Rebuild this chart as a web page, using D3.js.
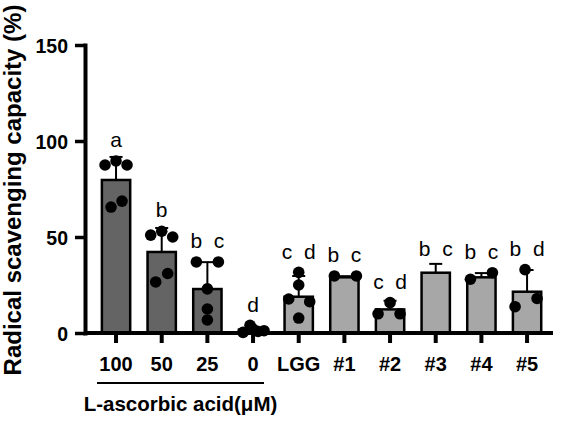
<!DOCTYPE html>
<html>
<head>
    <meta charset="utf-8">
    <style>
        body { margin: 0; background: #fff; }
        svg { font-family: "Liberation Sans", Arial, sans-serif; }
        .tick text { font-weight: bold; fill: #000; }
        .sig { font-size: 21px; white-space: pre; }
    </style>
</head>
<body>
<svg width="566" height="421"></svg>

<script src="https://d3js.org/d3.v7.min.js"></script>
<script>
    // groups on the x axis
    let groups = ["100", "50", "25", "0", "LGG", "#1", "#2", "#3", "#4", "#5"]
    // bar heights (mean) and upper SD
    let means = [79.7, 42.2, 22.9, 1.7, 18.9, 29.0, 12.3, 31.4, 29.0, 21.5]
    let sds = [12.0, 12.5, 14.0, 1.5, 10.8, 0.6, 4.5, 4.6, 2.2, 11.3]
    // individual replicates and their horizontal jitter (px)
    let points = [
        [87.5, 89.6, 87.5, 65.6, 68.7],
        [51, 53, 50, 26.6, 31],
        [37, 37, 23, 12.5, 6.8],
        [0.3, 4, 2, 0.8, 1.2],
        [31.6, 25, 17.7, 16.3, 7.8],
        [29.7, 29.7],
        [10, 10, 15.8],
        [],
        [28, 31.4],
        [33, 18, 13.7]
    ]
    let jitter = [
        [-11, 0, 11, -5, 6],
        [-11, 0, 11, -6, 6],
        [-11, 11, 0, 0, 0],
        [-10, -3, 0, 5, 11],
        [0, 0, -10, 11, 0],
        [-10, 12],
        [-12, 10, 0],
        [],
        [-11, 11],
        [-2, 10, -12]
    ]
    let letters = ["a", "b", "b  c", "d", "c  d", "b  c", "c  d", "b  c", "b  c", "b  d"]
    let dark = 4   // first four bars are the ascorbic acid series
    let yTicks = [0, 50, 100, 150]

    let svg = d3.select("svg")
    let axisX = 85, axisY = 333

    let x = d3.scaleBand()
        .domain(groups)
        .range([93.2, 549.9])
        .paddingInner(0.38)
        .paddingOuter(0.19)

    let y = d3.scaleLinear()
        .domain([0, 150])
        .range([axisY, 45])

    let r = 5.8

    // bars
    let g = svg.append("g")
    g.selectAll("rect")
        .data(groups)
        .join("rect")
        .attr("x", d => x(d))
        .attr("width", x.bandwidth())
        .attr("y", (d, i) => y(means[i]))
        .attr("height", (d, i) => axisY - y(means[i]))
        .attr("fill", (d, i) => i < dark ? "#646464" : "#a7a7a7")
        .attr("stroke", "#000")
        .attr("stroke-width", 2.5)

    // error bars (upper only)
    let eb = svg.append("g").attr("stroke", "#000").attr("stroke-width", 2)
    groups.forEach((d, i) => {
        let cx = x(d) + x.bandwidth() / 2
        eb.append("line")
            .attr("x1", cx).attr("x2", cx)
            .attr("y1", y(means[i])).attr("y2", y(means[i] + sds[i]))
        eb.append("line")
            .attr("x1", cx - 6.5).attr("x2", cx + 6.5)
            .attr("y1", y(means[i] + sds[i])).attr("y2", y(means[i] + sds[i]))
    })

    // dots
    let dots = svg.append("g")
    groups.forEach((d, i) => {
        let cx = x(d) + x.bandwidth() / 2
        dots.selectAll(".p" + i)
            .data(points[i])
            .join("circle")
            .attr("class", "p" + i)
            .attr("cx", (v, j) => cx + jitter[i][j])
            .attr("cy", v => y(v))
            .attr("r", r)
            .attr("fill", "#000")
    })

    // significance letters
    svg.append("g")
        .selectAll("text")
        .data(groups)
        .join("text")
        .attr("class", "sig")
        .attr("x", d => x(d) + x.bandwidth() / 2)
        .attr("y", (d, i) => {
            let px = Math.min(y(means[i] + sds[i]), y(d3.max(points[i]) || 0) - r)
            return px - 8
        })
        .attr("text-anchor", "middle")
        .text((d, i) => letters[i])

    // y axis
    let yAxis = svg.append("g")
        .attr("transform", `translate(${axisX},0)`)
        .call(d3.axisLeft(y).tickValues(yTicks).tickSize(10).tickSizeOuter(0).tickPadding(7))
    yAxis.select(".domain").attr("stroke-width", 4).attr("stroke-linecap", "square")
    yAxis.selectAll(".tick line").attr("stroke-width", 3.5)
    yAxis.selectAll(".tick text").style("font-size", "19.5px").attr("dy", "0.36em")

    // x axis
    let xAxis = svg.append("g")
        .attr("transform", `translate(0,${axisY})`)
        .call(d3.axisBottom(x).tickSize(10).tickSizeOuter(0).tickPadding(14))
    xAxis.select(".domain").remove()
    xAxis.append("line")
        .attr("x1", axisX).attr("x2", 553)
        .attr("stroke", "#000").attr("stroke-width", 4)
    xAxis.selectAll(".tick line").attr("stroke-width", 4)
    xAxis.selectAll(".tick text").style("font-size", "20px")

    // bracket under ascorbic acid groups
    svg.append("line")
        .attr("x1", 97).attr("x2", 264)
        .attr("y1", 383).attr("y2", 383)
        .attr("stroke", "#000").attr("stroke-width", 2)
    svg.append("text")
        .attr("x", 180.5).attr("y", 411)
        .attr("text-anchor", "middle")
        .style("font-size", "20.5px").style("font-weight", "bold")
        .text("L-ascorbic acid(μM)")

    // y label
    svg.append("text")
        .attr("transform", "translate(21,190) rotate(-90)")
        .attr("text-anchor", "middle")
        .style("font-size", "24px").style("font-weight", "bold")
        .text("Radical scavenging capacity (%)")
</script>
</body>
</html>
